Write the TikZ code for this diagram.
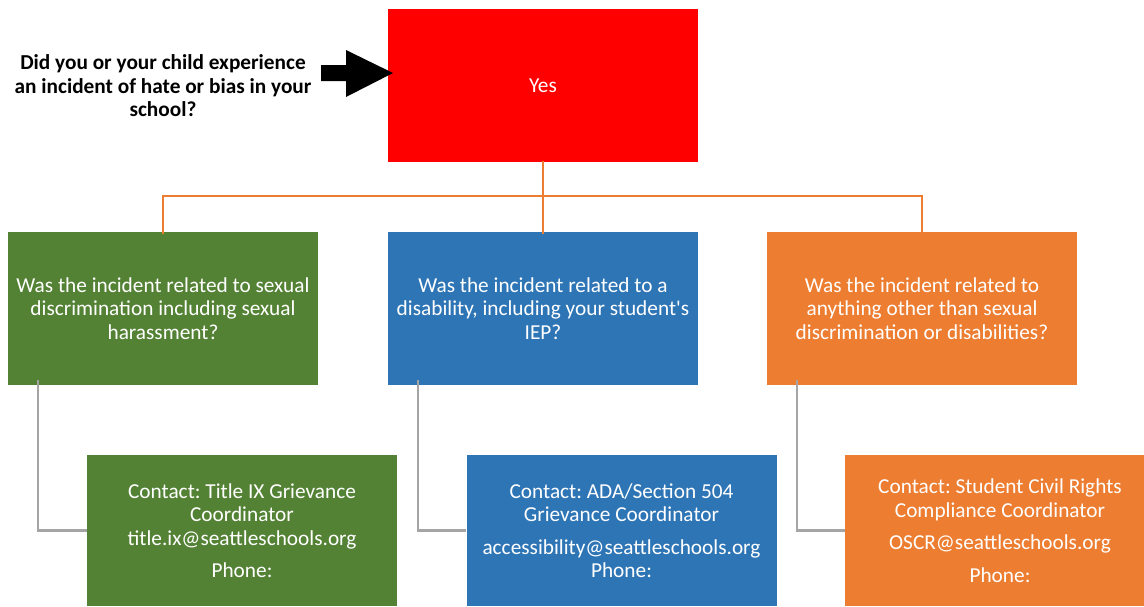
\documentclass[tikz,border=0pt]{standalone}
\usepackage{fontspec}
\setmainfont{Carlito}
\frenchspacing

\definecolor{yesred}{HTML}{FF0000}
\definecolor{askgreen}{HTML}{548235}
\definecolor{askblue}{HTML}{2E75B6}
\definecolor{askorange}{HTML}{ED7D31}
\definecolor{linkgray}{HTML}{A5A5A5}

\begin{document}
\begin{tikzpicture}[x=1pt,y=-1pt,
  card/.style={minimum width=310pt,inner sep=0pt,text=white,align=center,
    font=\fontsize{21.3}{23.5}\selectfont},
  orangelink/.style={draw=askorange,line width=2.2pt},
  graylink/.style={draw=linkgray,line width=2.2pt}]
  \clip (0,0) rectangle (1144,606);
  \fill[white] (0,0) rectangle (1144,606);

  % question and the pointer
  \node[align=center,font=\bfseries\fontsize{21.3}{23.5}\selectfont] (question) at (163,86)
    {Did you or your child experience\\an incident of hate or bias in your\\school?};
  \node[card,fill=yesred,minimum height=153pt] (yes) at (543,85.5) {Yes};
  \coordinate (tip) at (393,73);
  \fill (tip) -- (346,50) -- (346,65) -- (321,65) -- (321,81) -- (346,81) -- (346,97) -- cycle;

  % second row
  \node[card,fill=askgreen,minimum height=153pt] (sexual) at (163,308.5)
    {Was the incident related to sexual\\discrimination including sexual\\harassment?};
  \node[card,fill=askblue,minimum height=153pt] (disab) at (543,308.5)
    {Was the incident related to a\\disability, including your student\textquotesingle s\\IEP?};
  \node[card,fill=askorange,minimum height=153pt] (other) at (922,308.5)
    {Was the incident related to\\anything other than sexual\\discrimination or disabilities?};

  \draw[orangelink] ([yshift=1pt]yes.south) -- ++(0,35) coordinate (split);
  \draw[orangelink] (split) -| ([yshift=-2pt]sexual.north);
  \draw[orangelink] (split) -| ([yshift=-2pt]other.north);
  \draw[orangelink] (split) -- ([yshift=-2pt]disab.north);

  % contacts
  \node[card,fill=askgreen,minimum height=151pt] (titleix) at (242,530.5)
    {Contact: Title IX Grievance\\Coordinator\\title.ix@seattleschools.org\\[9pt]Phone:};
  \node[card,fill=askblue,minimum height=151pt] (ada) at (621.5,530.5)
    {Contact: ADA/Section 504\\Grievance Coordinator\\[9pt]accessibility@seattleschools.org\\Phone:};
  \node[card,fill=askorange,minimum height=151pt] (oscr) at (1000,530.5)
    {Contact: Student Civil Rights\\Compliance Coordinator\\[9pt]OSCR@seattleschools.org\\[9pt]Phone:};

  \draw[graylink] ([xshift=30pt,yshift=5pt]sexual.south west) |- (titleix.west);
  \draw[graylink] ([xshift=30pt,yshift=5pt]disab.south west) |- (ada.west);
  \draw[graylink] ([xshift=30pt,yshift=5pt]other.south west) |- (oscr.west);
\end{tikzpicture}
\end{document}
